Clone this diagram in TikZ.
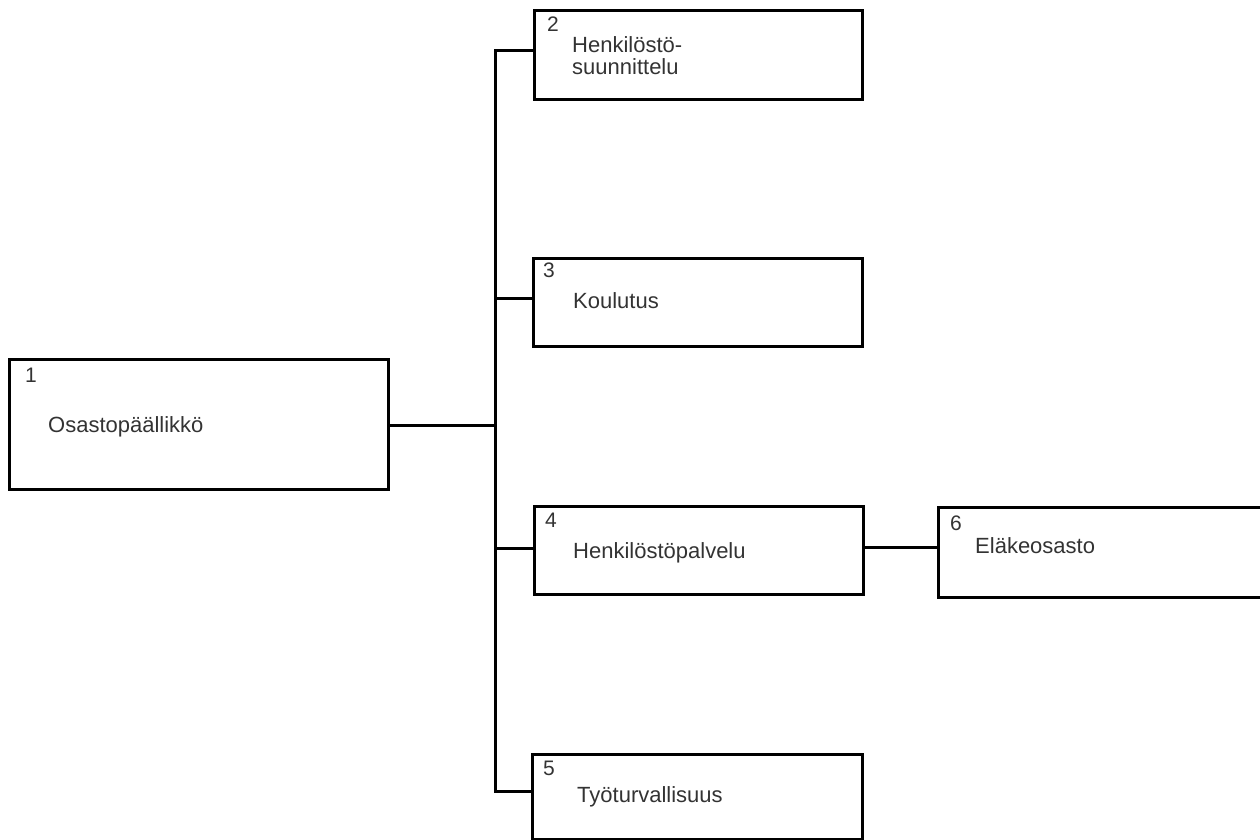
\documentclass[tikz,border=0pt]{standalone}
\usepackage{fontspec}
\setmainfont{Liberation Sans}
\begin{document}
\begin{tikzpicture}[x=1pt,y=-1pt,
  orgbox/.style={draw=black,line width=2.8pt,rectangle,inner sep=0pt,anchor=north west},
  numtext/.style={anchor=base west,inner sep=0pt,text=black!80,font=\fontsize{21}{21}\selectfont},
  labtext/.style={anchor=base west,inner sep=0pt,text=black!80,font=\fontsize{22}{22}\selectfont,align=left},
  link/.style={draw=black,line width=3pt,line cap=rect}]
\useasboundingbox (0,0) rectangle (1260,840);
\clip (0,0) rectangle (1260,840);
% boxes
\node[orgbox,minimum width=379pt,minimum height=130pt] (b1) at (8,358) {};
\node[orgbox,minimum width=328pt,minimum height=89pt] (b2) at (533,9) {};
\node[orgbox,minimum width=329pt,minimum height=88pt] (b3) at (532,257) {};
\node[orgbox,minimum width=329pt,minimum height=88pt] (b4) at (533,505) {};
\node[orgbox,minimum width=330pt,minimum height=85pt] (b5) at (531,753) {};
\node[orgbox,minimum width=340pt,minimum height=90pt] (b6) at (937,506) {};
% texts
\node[numtext] (n1) at (25,382) {1};
\node[labtext] (l1) at (48,432) {Osastopäällikkö};
\node[numtext] (n2) at (547,32) {2};
\node[labtext] (l2) at (572,75) {Henkilöstö-\\suunnittelu};
\node[numtext] (n3) at (543,277) {3};
\node[labtext] (l3) at (573,308) {Koulutus};
\node[numtext] (n4) at (545,527) {4};
\node[labtext] (l4) at (573,558) {Henkilöstöpalvelu};
\node[numtext] (n5) at (543,775) {5};
\node[labtext] (l5) at (577,802) {Työturvallisuus};
\node[numtext] (n6) at (950,530) {6};
\node[labtext] (l6) at (975,553) {Eläkeosasto};
% trunk
\coordinate (t1) at (495,425);
\coordinate (t2) at (495,51);
\coordinate (t3) at (495,298);
\coordinate (t4) at (495,548);
\coordinate (t5) at (495,791);
\coordinate (c46) at (862,547);
\draw[link] (t2) -- (t5);
\draw[link] (b1.east |- t1) -- (t1);
\draw[link] (t2) -- (t2 -| b2.west);
\draw[link] (t3) -- (t3 -| b3.west);
\draw[link] (t4) -- (t4 -| b4.west);
\draw[link] (t5) -- (t5 -| b5.west);
\draw[link] (b4.east |- c46) -- (c46 -| b6.west);
\end{tikzpicture}
\end{document}
